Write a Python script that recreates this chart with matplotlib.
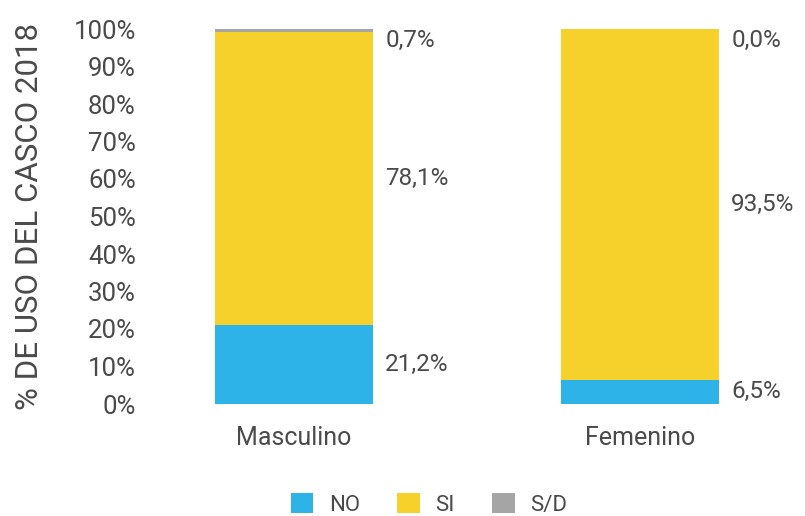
import matplotlib
matplotlib.use("Agg")
import matplotlib.pyplot as plt
from matplotlib.patches import Patch
import numpy as np

categories = ["Masculino", "Femenino"]
series_names = ["NO", "SI", "S/D"]
no_vals = [21.2, 6.5]
si_vals = [78.1, 93.5]
sd_vals = [0.7, 0.0]
yticks = [0, 10, 20, 30, 40, 50, 60, 70, 80, 90, 100]

colors = ["#2DB3E8", "#F7D12B", "#A5A5A5"]
text_color = "#4A4A4A"
font = "Roboto"
weight = "normal"

plt.rcParams["font.family"] = [font, "DejaVu Sans"]

fig = plt.figure(figsize=(8.05, 5.16), dpi=100)
L, R = 140 / 805, 800 / 805
B, T = (516 - 404) / 516, (516 - 29) / 516
ax = fig.add_axes([L, B, R - L, T - B])

x = np.arange(len(categories))
width = 0.457
series = [no_vals, si_vals, sd_vals]
bottom = np.zeros(len(categories))
for vals, col, name in zip(series, colors, series_names):
    vals = np.array(vals)
    ax.bar(x, vals, width, bottom=bottom, color=col, label=name, linewidth=0)
    centers = bottom + vals / 2
    for xi, c, v in zip(x, centers, vals):
        yy = min(c, 97)
        ax.text(xi + width / 2 + 0.035, yy, f"{v:.1f}%".replace(".", ","),
                ha="left", va="center", fontsize=17.5, color=text_color,
                fontweight=weight)
    bottom = bottom + vals

ax.set_xlim((140 - 294) / 346, (800 - 294) / 346)
ax.set_ylim(0, 100)
ax.set_yticks(yticks)
ax.set_yticklabels([f"{t}%" for t in yticks], fontsize=18.5, color=text_color,
                   fontweight=weight)
ax.set_xticks(x)
ax.set_xticklabels(categories, fontsize=18, color=text_color, fontweight=weight)
ax.tick_params(axis="both", length=0)
ax.tick_params(axis="y", pad=3)
ax.tick_params(axis="x", pad=16)
for s in ax.spines.values():
    s.set_visible(False)

ax.set_ylabel("% DE USO DEL CASCO 2018", fontsize=22.5, color=text_color,
              fontweight=weight)
ax.yaxis.set_label_coords(-0.145, 0.5)

handles = [Patch(facecolor=c, edgecolor="none") for c in colors]
fig.legend(handles, series_names, loc="center", bbox_to_anchor=(0.533, 0.022),
           ncol=3, frameon=False, handlelength=1.0, handleheight=1.0,
           columnspacing=1.7, handletextpad=0.7, labelcolor=text_color,
           prop={"family": [font, "DejaVu Sans"], "size": 16, "weight": weight})

fig.savefig("out.png", dpi=100)
